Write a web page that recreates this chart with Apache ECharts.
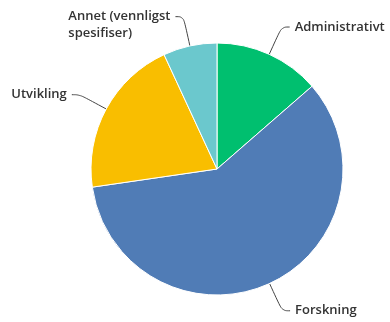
<!DOCTYPE html>
<html>
<head>
<meta charset="utf-8">
<script src="https://cdn.jsdelivr.net/npm/echarts@6/dist/echarts.min.js"></script>
<style>
  html, body { margin: 0; padding: 0; background: #fff; }
  #chart { width: 390px; height: 322px; }
</style>
</head>
<body>
<div id="chart"></div>
<script>
// Share of answers per category (percent)
const categories = ['Administrativt', 'Forskning', 'Utvikling', 'Annet (vennligst\nspesifiser)'];
const values = [13.6, 59.1, 20.4, 6.9];
const colors = ['#00BF6F', '#507CB6', '#F9BE00', '#6BC8CD'];

const chart = echarts.init(document.getElementById('chart'), null, { renderer: 'canvas' });

chart.setOption({
  animation: false,
  color: colors,
  series: [{
    type: 'pie',
    center: [217, 169],
    radius: 126,
    startAngle: 90,
    clockwise: true,
    avoidLabelOverlap: false,
    itemStyle: { borderColor: '#fff', borderWidth: 1 },
    label: {
      show: true,
      position: 'outside',
      formatter: p => p.name.split('\n').map(s => '{t|' + s + '}').join('\n'),
      rich: {
        t: {
          fontFamily: 'Open Sans',
          fontSize: 13,
          fontWeight: 600,
          color: '#333',
          lineHeight: 17,
          align: 'left'
        }
      }
    },
    labelLine: {
      show: true,
      length: 30,
      length2: 8,
      smooth: 0.4,
      lineStyle: { color: '#444', width: 1 }
    },
    emphasis: { disabled: true },
    data: categories.map((name, i) => ({
      name: name,
      value: values[i],
      // two-line label hangs from its first line
      label: name.indexOf('\n') >= 0 ? { padding: [17, 0, 0, 0] } : undefined
    }))
  }]
});
</script>
</body>
</html>
